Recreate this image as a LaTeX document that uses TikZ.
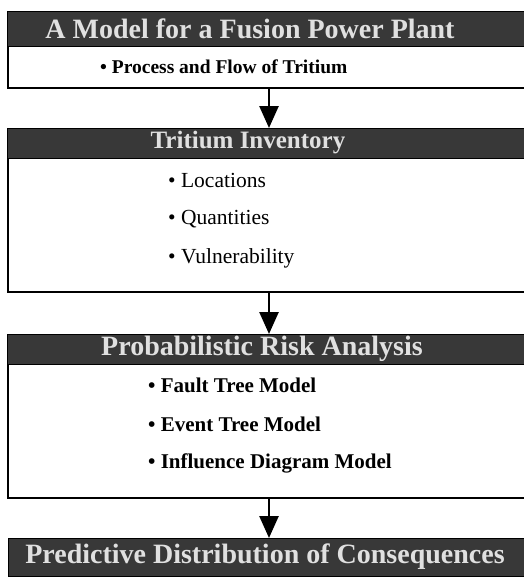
\documentclass[tikz,border=0pt]{standalone}
\usepackage{fontspec}
\setmainfont{Liberation Serif}
\usetikzlibrary{arrows.meta}

\definecolor{bandfill}{gray}{0.22}
\definecolor{bandtext}{gray}{0.88}

\tikzset{
  band/.style={draw=black, line width=1pt, fill=bandfill},
  bandlabel/.style={text=bandtext, inner sep=0pt, font=\fontsize{28}{30}\selectfont\bfseries},
  panel/.style={draw=black, line width=1.6pt, fill=white},
  item/.style={anchor=west, inner sep=0pt, font=\fontsize{21.5}{24}\selectfont},
  bolditem/.style={item, font=\fontsize{21}{24}\selectfont\bfseries},
  flow/.style={line width=2.6pt, -{Triangle[width=19pt,length=22pt]}}
}

\begin{document}
\begin{tikzpicture}[x=1pt, y=-1pt]
  \useasboundingbox (0,0) rectangle (523,579);

  % stage 1
  \draw[panel] (8,46) rectangle (532,88);
  \path[band] (7,11) rectangle (532,46);
  \node[bandlabel] (h1) at (250,29) {A Model for a Fusion Power Plant};
  \node[bolditem, font=\fontsize{19.5}{22}\selectfont\bfseries] (p1) at (100,67) {\textbullet\ Process and Flow of Tritium};

  % stage 2
  \draw[panel] (8,158) rectangle (532,292);
  \path[band] (7,128) rectangle (532,158);
  \node[bandlabel, font=\fontsize{25}{27}\selectfont\bfseries] (h2) at (248,143) {Tritium Inventory};
  \node[item] (l1) at (168,180) {\textbullet\ Locations};
  \node[item] (l2) at (168,219) {\textbullet\ Quantities};
  \node[item] (l3) at (168,258) {\textbullet\ Vulnerability};

  % stage 3
  \draw[panel] (8,364) rectangle (532,498);
  \path[band] (7,334) rectangle (532,364);
  \node[bandlabel] (h3) at (262,349) {Probabilistic Risk Analysis};
  \node[bolditem] (r1) at (148,385) {\textbullet\ Fault Tree Model};
  \node[bolditem] (r2) at (148,424) {\textbullet\ Event Tree Model};
  \node[bolditem] (r3) at (148,463) {\textbullet\ Influence Diagram Model};

  % stage 4
  \path[band] (8,538) rectangle (532,576);
  \node[bandlabel] (h4) at (265,557) {Predictive Distribution of Consequences};

  % connectors between the stages
  \coordinate (s1) at (269,88);  \coordinate (t2) at (269,128);
  \coordinate (s2) at (269,292); \coordinate (t3) at (269,334);
  \coordinate (s3) at (269,498); \coordinate (t4) at (269,538);
  \draw[flow] (s1) -- (t2);
  \draw[flow] (s2) -- (t3);
  \draw[flow] (s3) -- (t4);
\end{tikzpicture}
\end{document}
